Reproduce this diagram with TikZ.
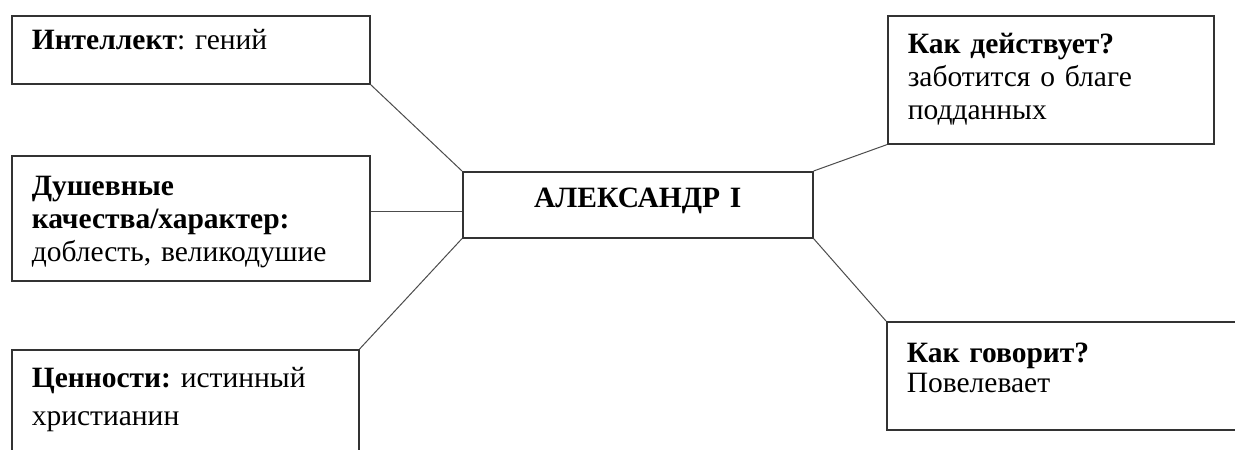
\documentclass[tikz,border=0pt]{standalone}
\usepackage{fontspec}
\setmainfont{Liberation Serif}
\usepackage{tikz}
\usetikzlibrary{calc,positioning}
\frenchspacing

\begin{document}
\begin{tikzpicture}[x=1pt,y=-1pt,
    box/.style={draw=black!80, line width=1.6pt, anchor=north west, align=left,
      inner xsep=20pt, inner ysep=0pt, font=\fontsize{29.5}{33}\selectfont},
    link/.style={draw=black!70, line width=1pt}]
    \clip (0,0) rectangle (1235,450);
    \fill[white] (0,0) rectangle (1235,450);

    \node[box, text width=318pt, text height=34pt, text depth=34pt] (intel) at (11,15)
      {\textbf{Интеллект}: гений};
    \node[box, text width=318pt, text height=40pt, text depth=85pt] (soul) at (11,155)
      {\textbf{Душевные}\\ \textbf{качества/характер:}\\ доблесть, великодушие};
    \node[box, text width=307pt, text height=38pt, text depth=93pt] (values) at (11,349)
      {\textbf{Ценности:} истинный\\[5pt] христианин};

    \node[box, align=center, text width=310pt, text height=36pt, text depth=30pt] (alex) at (462,171)
      {\textbf{АЛЕКСАНДР I}};

    \node[box, text width=286pt, text height=38pt, text depth=90pt] (deeds) at (887,15)
      {\textbf{Как действует?}\\ заботится о благе\\ подданных};
    \node[box, text width=330pt, text height=41pt, text depth=67pt] (speech) at (886,321)
      {\textbf{Как говорит?}\\[-3pt] Повелевает};

    % links
    \draw[link] (intel.south east) -- (alex.north west);
    \draw[link] ([yshift=-7pt]alex.west) -- ([yshift=-7pt]alex.west -| soul.east);
    \draw[link] (values.north east) -- (alex.south west);
    \draw[link] (alex.north east) -- (deeds.south west);
    \draw[link] (alex.south east) -- (speech.north west);
  \end{tikzpicture}
\end{document}
